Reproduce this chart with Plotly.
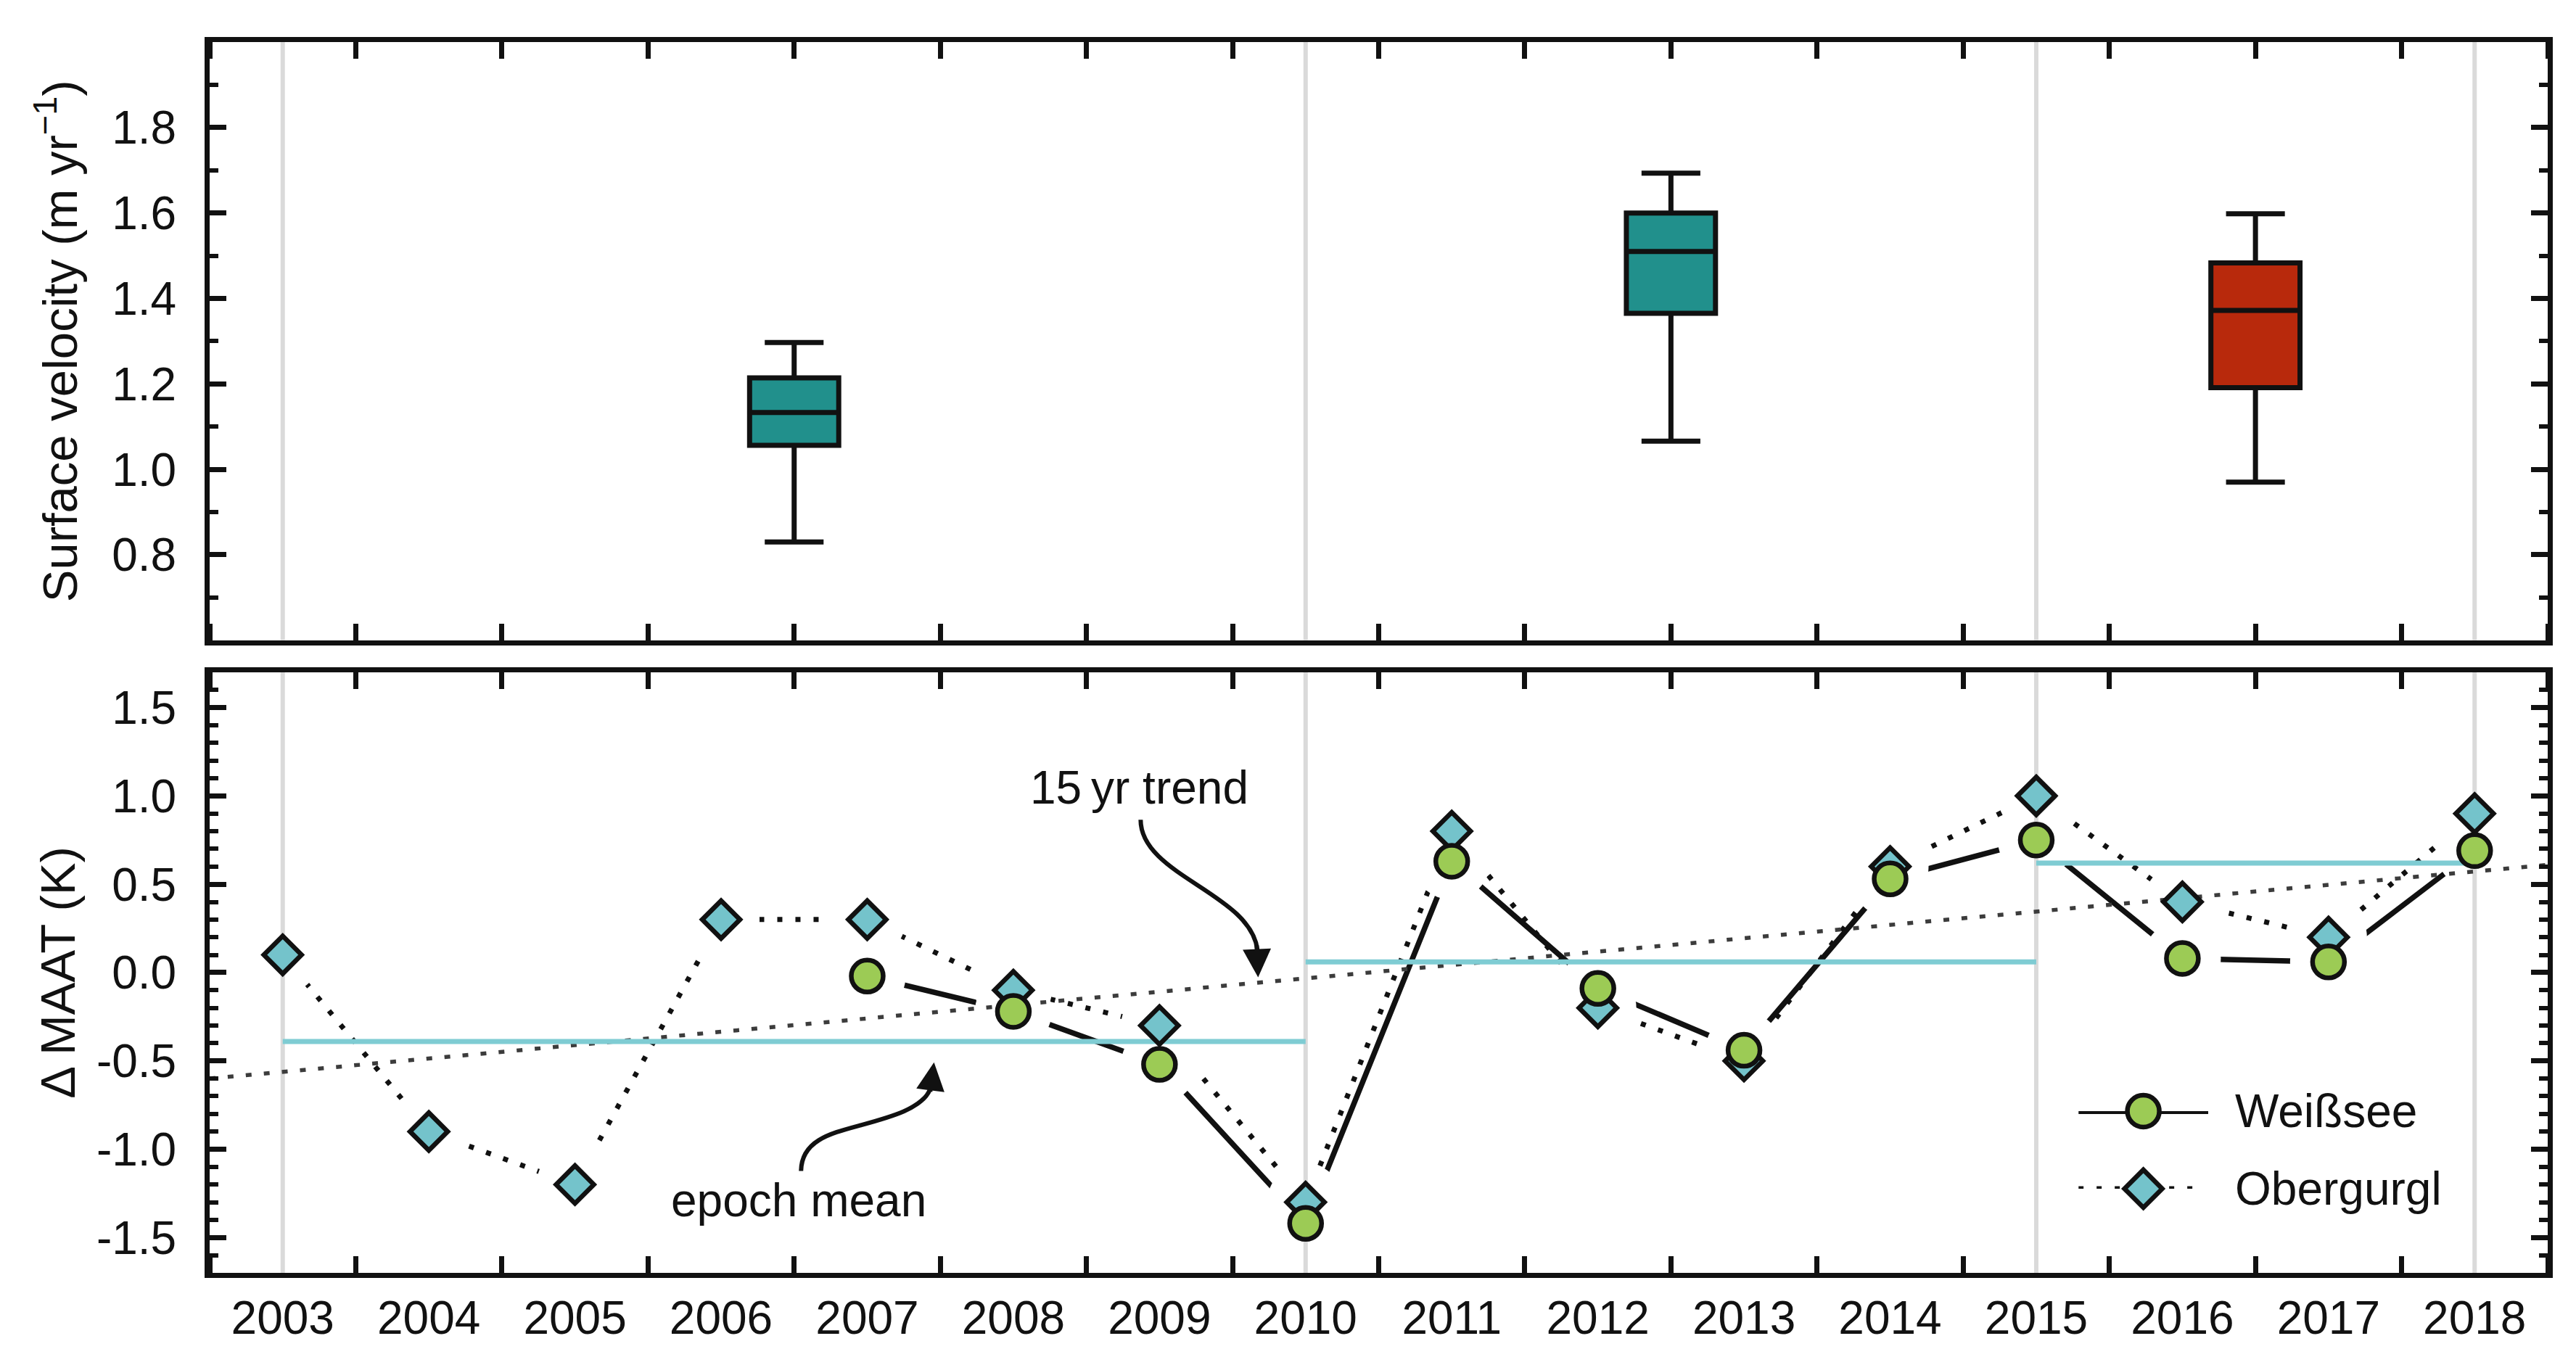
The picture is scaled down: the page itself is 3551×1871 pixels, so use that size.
import plotly.graph_objects as go

# ---- data ----
years = list(range(2003, 2019))
year_labels = [str(y) for y in years]

obergurgl = [0.10, -0.90, -1.20, 0.30, 0.30, -0.10, -0.30, -1.30,
             0.80, -0.20, -0.50, 0.60, 1.00, 0.40, 0.20, 0.90]

weissee_years = list(range(2007, 2019))
weissee = [-0.02, -0.22, -0.52, -1.42, 0.63, -0.09, -0.44, 0.53,
           0.75, 0.08, 0.06, 0.69]

epoch_bounds = [2003, 2010, 2015, 2018]
epoch_means = [-0.39, 0.06, 0.62]

trend_x = [2002.5, 2018.5]
trend_y = [-0.60, 0.61]

box_x = [2006.5, 2012.5, 2016.5]
box_low = [0.830, 1.066, 0.970]
box_q1 = [1.056, 1.365, 1.191]
box_med = [1.133, 1.510, 1.372]
box_q3 = [1.214, 1.600, 1.483]
box_high = [1.297, 1.693, 1.598]
box_colors = ["#21908C", "#21908C", "#B8290C"]

vel_ticks = [0.8, 1.0, 1.2, 1.4, 1.6, 1.8]
vel_ticktext = ["0.8", "1.0", "1.2", "1.4", "1.6", "1.8"]
dt_ticks = [-1.5, -1.0, -0.5, 0.0, 0.5, 1.0, 1.5]
dt_ticktext = ["-1.5", "-1.0", "-0.5", "0.0", "0.5", "1.0", "1.5"]

X_RANGE = [2002.5, 2018.5]
VEL_RANGE = [0.6, 2.0]
DT_RANGE = [-1.7, 1.7]

INK = "#111111"
FONT = "Liberation Sans, Arial, sans-serif"
FS = 64
FS_TITLE = 67
GREEN = "#9CCB55"
CYAN = "#74C3CB"
CYAN_LINE = "#7FCCD3"
GREY_LINE = "#DADADA"
MLW = 6.5            # marker outline
DOTS = "7px,18px"    # dotted Obergurgl line

fig = go.Figure()

# ---- top panel: surface velocity boxes ----
vx, vy_top, vy_bot = [], [], []
for b in epoch_bounds:
    vx += [b, b, None]
    vy_top += [VEL_RANGE[0], VEL_RANGE[1], None]
    vy_bot += [DT_RANGE[0], DT_RANGE[1], None]

fig.add_trace(go.Scatter(x=vx, y=vy_top, mode="lines", xaxis="x", yaxis="y",
                         line=dict(color=GREY_LINE, width=6),
                         showlegend=False, hoverinfo="skip"))

for i in range(len(box_x)):
    fig.add_trace(go.Box(
        x=[box_x[i]], q1=[box_q1[i]], median=[box_med[i]], q3=[box_q3[i]],
        lowerfence=[box_low[i]], upperfence=[box_high[i]],
        width=0.61, whiskerwidth=0.66, fillcolor=box_colors[i],
        line=dict(color=INK, width=7), boxpoints=False,
        xaxis="x", yaxis="y", showlegend=False))

# ---- bottom panel: MAAT anomalies ----
fig.add_trace(go.Scatter(x=years, y=obergurgl, mode="lines", xaxis="x2", yaxis="y2",
                         line=dict(color=INK, width=7, dash=DOTS),
                         showlegend=False, hoverinfo="skip"))
fig.add_trace(go.Scatter(x=weissee_years, y=weissee, mode="lines", xaxis="x2", yaxis="y2",
                         line=dict(color=INK, width=7.5),
                         showlegend=False, hoverinfo="skip"))
# white halos leave the small gaps between lines and markers
for xs, ys in [(years, obergurgl), (weissee_years, weissee)]:
    fig.add_trace(go.Scatter(x=xs, y=ys, mode="markers", xaxis="x2", yaxis="y2",
                             marker=dict(size=106, color="white", line=dict(width=0)),
                             showlegend=False, hoverinfo="skip"))

fig.add_trace(go.Scatter(x=vx, y=vy_bot, mode="lines", xaxis="x2", yaxis="y2",
                         line=dict(color=GREY_LINE, width=6),
                         showlegend=False, hoverinfo="skip"))

fig.add_trace(go.Scatter(x=trend_x, y=trend_y, mode="lines", xaxis="x2", yaxis="y2",
                         line=dict(color="#3c3c3c", width=5.5, dash="8px,17px"),
                         showlegend=False, hoverinfo="skip"))

ex, ey = [], []
for i, m in enumerate(epoch_means):
    ex += [epoch_bounds[i], epoch_bounds[i + 1], None]
    ey += [m, m, None]
fig.add_trace(go.Scatter(x=ex, y=ey, mode="lines", xaxis="x2", yaxis="y2",
                         line=dict(color=CYAN_LINE, width=7),
                         showlegend=False, hoverinfo="skip"))

fig.add_trace(go.Scatter(x=years, y=obergurgl, mode="markers", xaxis="x2", yaxis="y2",
                         marker=dict(symbol="diamond", size=40, color=CYAN,
                                     line=dict(color=INK, width=MLW)),
                         cliponaxis=False, showlegend=False))
fig.add_trace(go.Scatter(x=weissee_years, y=weissee, mode="markers", xaxis="x2", yaxis="y2",
                         marker=dict(symbol="circle", size=44, color=GREEN,
                                     line=dict(color=INK, width=MLW)),
                         cliponaxis=False, showlegend=False))

# ---- hand-made legend on a hidden little axis ----
legend_line = [0, 1]
fig.add_trace(go.Scatter(x=legend_line, y=[1, 1], mode="lines", xaxis="x3", yaxis="y3",
                         line=dict(color=INK, width=8), cliponaxis=False,
                         showlegend=False, hoverinfo="skip"))
fig.add_trace(go.Scatter(x=[0.5], y=[1], mode="markers", xaxis="x3", yaxis="y3",
                         marker=dict(symbol="circle", size=44, color=GREEN,
                                     line=dict(color=INK, width=MLW)),
                         cliponaxis=False, showlegend=False, hoverinfo="skip"))
fig.add_trace(go.Scatter(x=[0, 0.9], y=[0, 0], mode="lines", xaxis="x3", yaxis="y3",
                         line=dict(color=INK, width=7, dash=DOTS), cliponaxis=False,
                         showlegend=False, hoverinfo="skip"))
fig.add_trace(go.Scatter(x=[0.5], y=[0], mode="markers", xaxis="x3", yaxis="y3",
                         marker=dict(symbol="diamond", size=40, color=CYAN,
                                     line=dict(color=INK, width=MLW)),
                         cliponaxis=False, showlegend=False, hoverinfo="skip"))

# ---- axes ----
frame = dict(showline=True, linecolor=INK, linewidth=7, mirror="allticks",
             showgrid=False, zeroline=False,
             tickfont=dict(family=FONT, size=FS, color=INK))
xminor = dict(ticks="inside", tick0=2002.5, dtick=1, ticklen=23, tickwidth=7, tickcolor=INK)

fig.update_layout(
    width=3551, height=1871,
    margin=dict(l=281, r=47, t=50, b=124),
    paper_bgcolor="white", plot_bgcolor="white",
    font=dict(family=FONT, size=FS, color=INK),
    showlegend=False,
    xaxis=dict(frame, domain=[0, 1], range=X_RANGE, anchor="y", ticks="",
               showticklabels=False, minor=xminor),
    yaxis=dict(frame, domain=[0.514, 1.0], range=VEL_RANGE, anchor="x",
               tickmode="array", tickvals=vel_ticks, ticktext=vel_ticktext,
               ticks="inside", ticklen=23, tickwidth=7, tickcolor=INK,
               ticklabelstandoff=26,
               minor=dict(ticks="inside", tick0=0.7, dtick=0.2, ticklen=12,
                          tickwidth=6, tickcolor=INK),
               title=dict(text="Surface velocity (m yr<sup>\u22121</sup>)",
                          font=dict(size=FS_TITLE), standoff=28)),
    xaxis2=dict(frame, domain=[0, 1], range=X_RANGE, anchor="y2", ticks="",
                tickmode="array", tickvals=years, ticktext=year_labels,
                ticklabelstandoff=0, minor=xminor),
    yaxis2=dict(frame, domain=[0, 0.488], range=DT_RANGE, anchor="x2",
                tickmode="array", tickvals=dt_ticks, ticktext=dt_ticktext,
                ticks="inside", ticklen=23, tickwidth=7, tickcolor=INK,
                ticklabelstandoff=26,
                minor=dict(ticks="inside", tick0=0, dtick=0.1, ticklen=12,
                           tickwidth=6, tickcolor=INK),
                title=dict(text="\u0394 MAAT (K)", font=dict(size=FS_TITLE), standoff=10)),
    xaxis3=dict(domain=[0.7993, 0.8548], range=[0, 1], anchor="y3", visible=False,
                fixedrange=True),
    yaxis3=dict(domain=[0.0684, 0.1314], range=[0, 1], anchor="x3", visible=False,
                fixedrange=True),
)

# ---- annotations: curved arrows + labels ----
arrow = dict(color=INK, width=6)
fig.add_shape(type="path", xref="x2", yref="y2", line=arrow, fillcolor="rgba(0,0,0,0)",
              path="M 2008.871,0.865 C 2008.871,0.55 2009.62,0.45 2009.67,0.13")
fig.add_shape(type="path", xref="x2", yref="y2", line=arrow, fillcolor="rgba(0,0,0,0)",
              path=("M 2006.547,-1.123 C 2006.55,-0.95 2006.75,-0.91 2006.95,-0.865 "
                    "C 2007.15,-0.82 2007.38,-0.77 2007.43,-0.66"))

for tip, tail in [((2009.675, -0.027), (2009.665, 0.16)),
                  ((2007.457, -0.508), (2007.43, -0.68))]:
    fig.add_annotation(x=tip[0], y=tip[1], ax=tail[0], ay=tail[1],
                       xref="x2", yref="y2", axref="x2", ayref="y2",
                       text="", showarrow=True, arrowhead=2, arrowsize=1.3,
                       arrowwidth=6, arrowcolor=INK, standoff=0)

fig.add_annotation(x=2008.86, y=1.046, xref="x2", yref="y2", text="15\u2009yr trend",
                   showarrow=False, font=dict(size=FS, color=INK))
fig.add_annotation(x=2006.53, y=-1.29, xref="x2", yref="y2", text="epoch mean",
                   showarrow=False, font=dict(size=FS, color=INK))

# legend labels (paper coords, next to the legend axis)
fig.add_annotation(x=0.8657, y=0.1314, xref="paper", yref="paper", text="Wei\u00dfsee",
                   xanchor="left", yanchor="middle", showarrow=False,
                   font=dict(size=FS, color=INK))
fig.add_annotation(x=0.8657, y=0.0684, xref="paper", yref="paper", text="Obergurgl",
                   xanchor="left", yanchor="middle", showarrow=False,
                   font=dict(size=FS, color=INK))

fig.write_html("out.html")
